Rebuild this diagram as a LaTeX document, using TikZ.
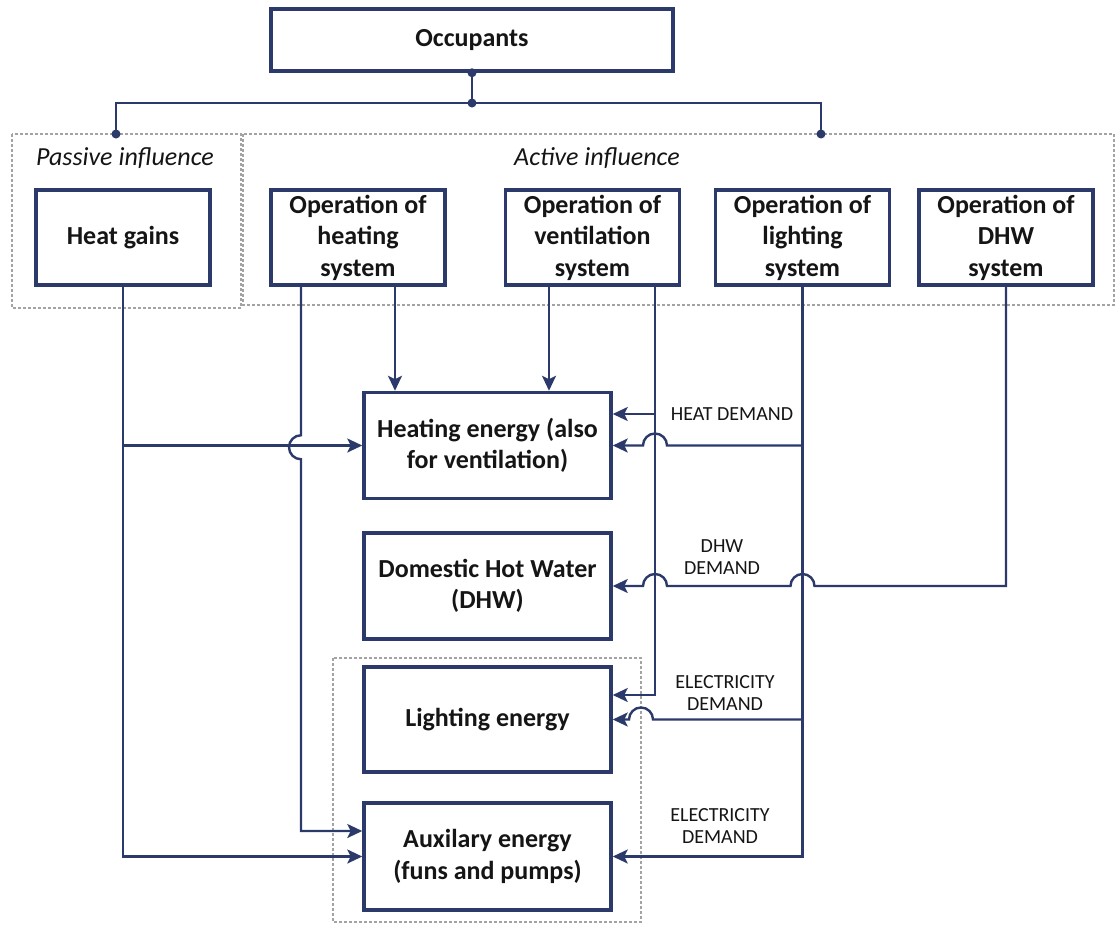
\documentclass[tikz,border=0pt]{standalone}
\usepackage{fontspec}
\setmainfont{Carlito}
\usetikzlibrary{arrows.meta,calc}
\definecolor{navy}{HTML}{2B3A6B}
\definecolor{groupgray}{HTML}{A3A3A3}
\definecolor{ink}{HTML}{151515}

\begin{document}
\begin{tikzpicture}[x=1pt,y=-1pt,
  box/.style={draw=navy, line width=3.5pt, fill=white, text=ink, inner sep=0pt,
    minimum width=174pt, minimum height=95pt, align=center,
    font=\fontsize{26}{31.5}\selectfont\bfseries},
  ebox/.style={box, minimum width=247pt, minimum height=106pt},
  group/.style={draw=groupgray, line width=1.2pt, dash pattern=on 3pt off 2pt},
  conn/.style={draw=navy, line width=2.4pt},
  arr/.style={conn, -{Stealth[length=15pt,width=14pt,inset=3.5pt]}},
  glabel/.style={text=ink, font=\fontsize{26}{30}\selectfont\itshape},
  dlabel/.style={text=ink, align=center, font=\fontsize{20}{22.5}\selectfont},
  dot/.style={fill=navy}
]
\fill[white] (0,0) rectangle (1116,924);
\useasboundingbox (0,0) rectangle (1116,924);

% grouping frames
\draw[group] (12,134) rectangle (241,308);
\draw[group] (243,134) rectangle (1114,305);
\draw[group] (333,658) rectangle (641,922);
\node[glabel] (passive) at (125,158) {Passive influence};
\node[glabel] (active) at (597,158) {Active influence};

% boxes
\node[box, minimum width=402pt, minimum height=62pt] (occ) at (472,40) {Occupants};
\node[box] (hg)  at (123,237.5)   {Heat gains};
\node[box] (ohs) at (358,237.5)   {Operation of\\heating\\system};
\node[box] (ovs) at (592.5,237.5) {Operation of\\ventilation\\system};
\node[box] (ols) at (802.5,237.5) {Operation of\\lighting\\system};
\node[box] (ods) at (1006,237.5)  {Operation of\\DHW\\system};

\node[ebox] (he)  at (487.5,445.5) {Heating energy (also\\for ventilation)};
\node[ebox] (dhw) at (487.5,586)   {Domestic Hot Water\\(DHW)};
\node[ebox, minimum height=105pt] (le)  at (487.5,719.5) {Lighting energy};
\node[ebox, minimum height=107pt] (aux) at (487.5,856.5) {Auxilary energy\\(funs and pumps)};

% helper coordinates
\coordinate (j0) at (472,103);
\coordinate (pdot) at (116,134);
\coordinate (adot) at (821,134);
\coordinate (vR) at ([xshift=62.5pt]ovs.south);
\coordinate (vRp) at ([xshift=74.5pt]ovs.south);
\coordinate (lRp) at ([xshift=12pt]ols.south);
\coordinate (gRp) at (653,0);
\coordinate (heT) at ([yshift=31.5pt]he.east);

% occupants tree
\draw[conn] (occ.south) -- (j0);
\draw[conn] (pdot) |- (j0) -| (adot);
\foreach \p in {occ.south, j0, pdot, adot}
  \fill[dot] (\p) circle (4.5pt);

% heat gains
\draw[arr] (hg.south) |- (aux.west);
\draw[arr] (hg.south |- he.west) -- (he.west);

% heating system
\draw[arr] ($(ohs.south)+(-57,0)$) -- ++(0,148.5)
  arc[start angle=90, end angle=270, radius=12pt] |- ($(aux.west)+(0,-25.5)$);
\draw[arr] ([xshift=37pt]ohs.south) -- ([xshift=-92.5pt]he.north);

% ventilation system
\draw[arr] ([xshift=-43.5pt]ovs.south) -- ([xshift=61.5pt]he.north);
\draw[arr] (vR) |- ([yshift=24.5pt]le.east);
\draw[arr] (vR |- heT) -- (heT);

% lighting system
\draw[arr] (ols.south) |- (aux.east);
\draw[arr] (ols.south |- he.east) -- (vRp |- he.east)
  arc[start angle=0, end angle=180, radius=12pt] -- (he.east);
\draw[arr] (ols.south |- le.east) -- (gRp |- le.east)
  arc[start angle=0, end angle=180, radius=12pt] -- (le.east);

% DHW system
\draw[arr] (ods.south) -- (ods.south |- dhw.east) -- (lRp |- dhw.east)
  arc[start angle=0, end angle=180, radius=12pt] -- (vRp |- dhw.east)
  arc[start angle=0, end angle=180, radius=12pt] -- (dhw.east);

% demand labels
\node[dlabel] (lheat) at (732,414) {HEAT DEMAND};
\node[dlabel] (ldhw)  at (722,557) {DHW\\DEMAND};
\node[dlabel] (lel1)  at (725,693) {ELECTRICITY\\DEMAND};
\node[dlabel] (lel2)  at (720,826) {ELECTRICITY\\DEMAND};
\end{tikzpicture}
\end{document}
